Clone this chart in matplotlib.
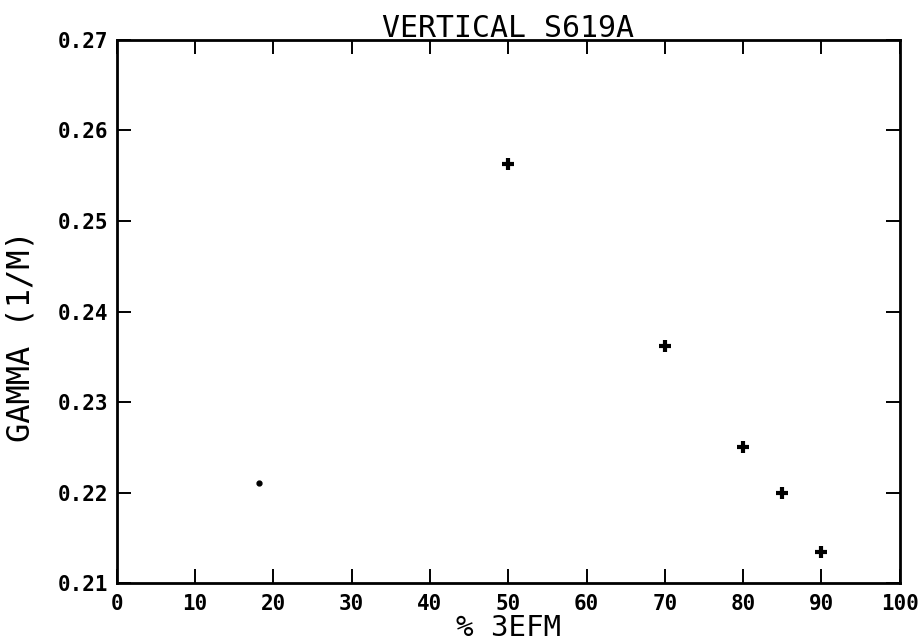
import matplotlib
matplotlib.use("Agg")
import matplotlib.pyplot as plt

# Data
pct = [50, 70, 80, 85, 90]
gamma = [0.2563, 0.2362, 0.2250, 0.2200, 0.2135]
dot_x = [18.2]
dot_y = [0.2211]

x_ticks = [0, 10, 20, 30, 40, 50, 60, 70, 80, 90, 100]
y_ticks = [0.21, 0.22, 0.23, 0.24, 0.25, 0.26, 0.27]
y_labels = ["0.21", "0.22", "0.23", "0.24", "0.25", "0.26", "0.27"]

title = "VERTICAL S619A"
xlabel = "% 3EFM"
ylabel = "GAMMA (1/M)"

plt.rcParams['font.family'] = ['DejaVu Sans Mono', 'DejaVu Sans']

fig = plt.figure(figsize=(9.2, 6.43), dpi=100)
ax = fig.add_axes([0.127, 0.093, 0.851, 0.845])

ax.plot(pct, gamma, linestyle='none', marker='+', markersize=9,
        markeredgewidth=3, color='black')
ax.plot(dot_x, dot_y, linestyle='none', marker='o', markersize=3.5,
        color='black')

ax.set_xlim(0, 100)
ax.set_ylim(0.21, 0.27)
ax.set_xticks(x_ticks)
ax.set_xticklabels([str(v) for v in x_ticks])
ax.set_yticks(y_ticks)
ax.set_yticklabels(y_labels)

for s in ax.spines.values():
    s.set_linewidth(2)
    s.set_color('black')

ax.tick_params(direction='in', length=10, width=1.4, top=True, right=True,
               labelsize=15, pad=8, colors='black')
ax.tick_params(axis='y', pad=6)
for lab in ax.get_xticklabels() + ax.get_yticklabels():
    lab.set_fontweight('bold')

ax.set_title(title, fontsize=21.5, pad=2, color='black')
ax.set_xlabel(xlabel, fontsize=21, labelpad=0, color='black')
ax.set_ylabel(ylabel, fontsize=23, color='black')
ax.yaxis.set_label_coords(-0.102, 0.455)

fig.savefig("out.png", dpi=100, facecolor='white')
